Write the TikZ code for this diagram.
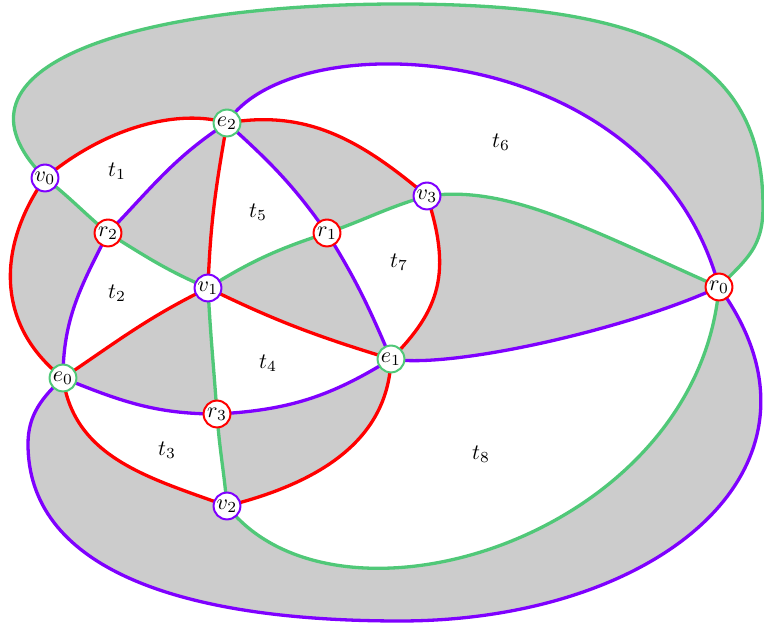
\documentclass[tikz,border=0pt]{standalone}
\pgfdeclarelayer{background}
\pgfsetlayers{background,main}

\begin{document}
\begin{tikzpicture}[x=1pt, y=1pt,
    every node/.style={scale=2.2},
    % Colors
    cred/.style={draw={rgb,255:red,255;green,0;blue,0}},
    cpurple/.style={draw={rgb,255:red,127;green,0;blue,255}},
    cgreen/.style={draw={rgb,255:red,80;green,200;blue,120}},
    cgray/.style={fill={rgb,255:red,204;green,204;blue,204}},
    % Styles
    vertex/.style={circle, fill=white, line width=2pt, inner sep=0pt, minimum size=12.2pt},
    link/.style={line width=3.3pt},
    % Curves
    v0e2/.style={out=40, in=163, out distance=80pt, in distance=50pt},
    e2r2/.style={out=213, in=46},
    r2v0/.style={out=140, in=-38},
    r2v1/.style={out=-32, in=157},
    v1e0/.style={out=206, in=34},
    e0r2/.style={out=90, in=243},
    e0r3/.style={out=-22, in=180},
    r3v2/.style={out=-86, in=95},
    v2e0/.style={out=160, in=-82},
    v1e1/.style={out=-26, in=163},
    e1r3/.style={out=212, in=3},
    r3v1/.style={out=94, in=-87},
    e2v1/.style={out=260, in=88},
    v1r1/.style={out=32, in=198},
    r1e2/.style={out=125, in=-42},
    e2r0/.style={out=58, in=105, out distance=120pt, in distance=260pt},
    r0v3/.style={out=156, in=8, out distance=150pt, in distance=80pt},
    v3e2/.style={out=140, in=10},
    r1v3/.style={out=19, in=196},
    v3e1/.style={out=-72, in=45, out distance=80pt, in distance=70pt},
    e1r1/.style={out=113, in=-58},
    e1r0/.style={out=-10, in=205, out distance=60pt, in distance=100pt},
    r0v2/.style={out=265, in=-52, out distance=250pt, in distance=180pt},
    v2e1/.style={out=14, in=-92},
    v0ct/.style={out=135, in=180, out distance=160pt, in distance=260pt},
    ctcr/.style={out=0, in=90, out distance=250pt, in distance=150pt},
    crr0/.style={out=-90, in=45, out distance=40pt, in distance=40pt},
    r0cb/.style={out=-54, in=0, out distance=220pt, in distance=260pt},
    cbcl/.style={out=180, in=-90, out distance=230pt, in distance=120pt},
    cle0/.style={out=90, in=223, out distance=29pt, in distance=29pt},
    e0v0/.style={out=142, in=235, out distance=85pt, in distance=85pt},
  ]

  \useasboundingbox (0,0) rectangle (764,623);

  % Vertices
  \node[vertex, cpurple] (v0) at (45,445) {$v_0$};
  \node[vertex, cpurple] (v1) at (208,335) {$v_1$};
  \node[vertex, cpurple] (v2) at (227,117) {$v_2$};
  \node[vertex, cpurple] (v3) at (427,427) {$v_3$};
  \node[vertex, cgreen] (e0) at (63,245) {$e_0$};
  \node[vertex, cgreen] (e1) at (391,264) {$e_1$};
  \node[vertex, cgreen] (e2) at (227,500) {$e_2$};
  \node[vertex, cred] (r0) at (719,336) {$r_0$};
  \node[vertex, cred] (r1) at (327,390) {$r_1$};
  \node[vertex, cred] (r2) at (108,390) {$r_2$};
  \node[vertex, cred] (r3) at (217,209) {$r_3$};

  % Face labels
  \node (t1) at (117,452) {$t_1$};
  \node (t2) at (117,330) {$t_2$};
  \node (t3) at (167,173) {$t_3$};
  \node (t4) at (268,260) {$t_4$};
  \node (t5) at (258,411) {$t_5$};
  \node (t6) at (501,481) {$t_6$};
  \node (t7) at (399,361) {$t_7$};
  \node (t8) at (481,169) {$t_8$};

  % Turning points of the outer loops
  \coordinate (ctop) at (400,619);
  \coordinate (cright) at (763,416);
  \coordinate (cbot) at (400,2);
  \coordinate (cleft) at (28,179);

  \begin{pgfonlayer}{background}
    % Shaded region
    \fill[cgray] (v0.center) to[v0ct] (ctop) to[ctcr] (cright) to[crr0] (r0.center)
      to[r0cb] (cbot) to[cbcl] (cleft) to[cle0] (e0.center) to[e0v0] (v0.center) -- cycle;

    % White faces
    \fill[white] (v0.center) to[v0e2] (e2.center) to[e2r2] (r2.center) to[r2v0] (v0.center) -- cycle;
    \fill[white] (r2.center) to[r2v1] (v1.center) to[v1e0] (e0.center) to[e0r2] (r2.center) -- cycle;
    \fill[white] (e0.center) to[e0r3] (r3.center) to[r3v2] (v2.center) to[v2e0] (e0.center) -- cycle;
    \fill[white] (v1.center) to[v1e1] (e1.center) to[e1r3] (r3.center) to[r3v1] (v1.center) -- cycle;
    \fill[white] (e2.center) to[e2v1] (v1.center) to[v1r1] (r1.center) to[r1e2] (e2.center) -- cycle;
    \fill[white] (e2.center) to[e2r0] (r0.center) to[r0v3] (v3.center) to[v3e2] (e2.center) -- cycle;
    \fill[white] (r1.center) to[r1v3] (v3.center) to[v3e1] (e1.center) to[e1r1] (r1.center) -- cycle;
    \fill[white] (e1.center) to[e1r0] (r0.center) to[r0v2] (v2.center) to[v2e1] (e1.center) -- cycle;

    % Red edges
    \draw[link, cred] (v0.center) to[v0e2] (e2.center);
    \draw[link, cred] (v1.center) to[v1e0] (e0.center);
    \draw[link, cred] (v2.center) to[v2e0] (e0.center);
    \draw[link, cred] (v1.center) to[v1e1] (e1.center);
    \draw[link, cred] (e2.center) to[e2v1] (v1.center);
    \draw[link, cred] (v3.center) to[v3e2] (e2.center);
    \draw[link, cred] (v3.center) to[v3e1] (e1.center);
    \draw[link, cred] (v2.center) to[v2e1] (e1.center);
    \draw[link, cred] (e0.center) to[e0v0] (v0.center);

    % Purple edges
    \draw[link, cpurple] (e2.center) to[e2r2] (r2.center);
    \draw[link, cpurple] (e0.center) to[e0r2] (r2.center);
    \draw[link, cpurple] (e0.center) to[e0r3] (r3.center);
    \draw[link, cpurple] (e1.center) to[e1r3] (r3.center);
    \draw[link, cpurple] (r1.center) to[r1e2] (e2.center);
    \draw[link, cpurple] (e2.center) to[e2r0] (r0.center);
    \draw[link, cpurple] (e1.center) to[e1r1] (r1.center);
    \draw[link, cpurple] (e1.center) to[e1r0] (r0.center);
    \draw[link, cpurple] (r0.center) to[r0cb] (cbot) to[cbcl] (cleft) to[cle0] (e0.center);

    % Green edges
    \draw[link, cgreen] (r2.center) to[r2v0] (v0.center);
    \draw[link, cgreen] (r2.center) to[r2v1] (v1.center);
    \draw[link, cgreen] (r3.center) to[r3v2] (v2.center);
    \draw[link, cgreen] (r3.center) to[r3v1] (v1.center);
    \draw[link, cgreen] (v1.center) to[v1r1] (r1.center);
    \draw[link, cgreen] (r0.center) to[r0v3] (v3.center);
    \draw[link, cgreen] (r1.center) to[r1v3] (v3.center);
    \draw[link, cgreen] (r0.center) to[r0v2] (v2.center);
    \draw[link, cgreen] (v0.center) to[v0ct] (ctop) to[ctcr] (cright) to[crr0] (r0.center);
  \end{pgfonlayer}

\end{tikzpicture}
\end{document}
